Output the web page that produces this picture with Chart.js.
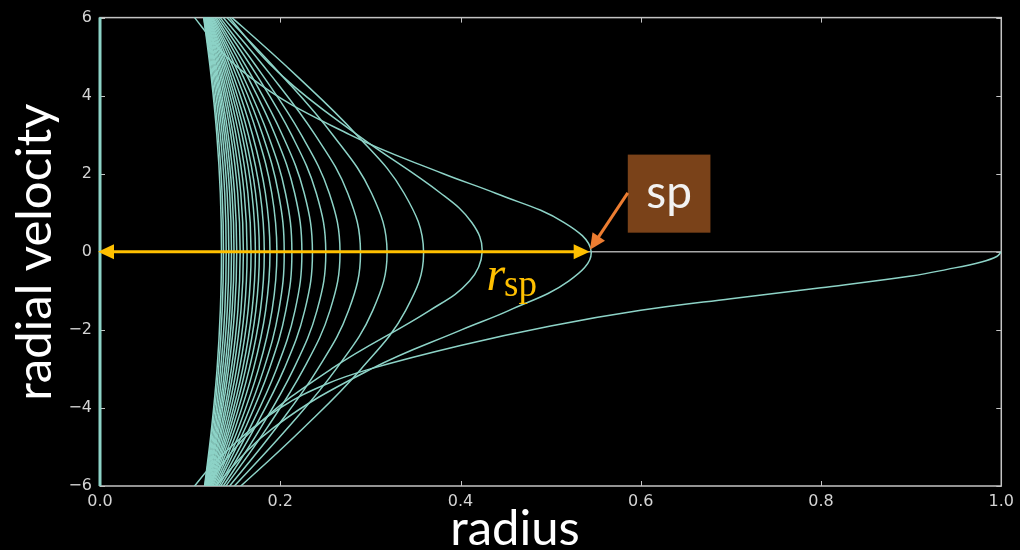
<!DOCTYPE html>
<html>
<head>
<meta charset="utf-8">
<script src="https://cdn.jsdelivr.net/npm/chart.js@4/dist/chart.umd.min.js"></script>
<style>
  html, body { margin: 0; padding: 0; background: #000; }
  #wrap { width: 1020px; height: 550px; }
</style>
</head>
<body>
<div id="wrap"><canvas id="phase" width="1020" height="550"></canvas></div>
<script>
// ---- axis ticks ----
const xTickValues = [0, 0.2, 0.4, 0.6, 0.8, 1.0];
const xTickLabels = ['0.0', '0.2', '0.4', '0.6', '0.8', '1.0'];
const yTickValues = [-6, -4, -2, 0, 2, 4, 6];
const yTickLabels = ['\u22126', '\u22124', '\u22122', '0', '2', '4', '6'];

// ---- velocity levels at which each nested stream is sampled ----
const shellLevels = [6.8, 6, 4.5, 3, 1.5, 0, -1.5, -3, -4.5, -6, -6.8];

// radii of the nested streams (outer to inner), one value per velocity level
const shell01 = [0.1057, 0.1464, 0.2185, 0.2846, 0.3374, 0.3590, 0.3392, 0.2897, 0.2263, 0.1563, 0.1167];
const shell02 = [0.1058, 0.1407, 0.2024, 0.2581, 0.3013, 0.3185, 0.3027, 0.2621, 0.2087, 0.1490, 0.1152];
const shell03 = [0.1061, 0.1366, 0.1905, 0.2385, 0.2749, 0.2890, 0.2759, 0.2417, 0.1958, 0.1437, 0.1141];
const shell04 = [0.1063, 0.1334, 0.1811, 0.2232, 0.2544, 0.2663, 0.2552, 0.2259, 0.1857, 0.1396, 0.1133];
const shell05 = [0.1065, 0.1312, 0.1746, 0.2124, 0.2400, 0.2505, 0.2408, 0.2148, 0.1786, 0.1368, 0.1129];
const shell06 = [0.1066, 0.1291, 0.1683, 0.2022, 0.2266, 0.2357, 0.2272, 0.2043, 0.1719, 0.1341, 0.1124];
const shell07 = [0.1069, 0.1275, 0.1634, 0.1942, 0.2160, 0.2240, 0.2164, 0.1959, 0.1666, 0.1320, 0.1121];
const shell08 = [0.1070, 0.1259, 0.1587, 0.1864, 0.2058, 0.2129, 0.2062, 0.1879, 0.1615, 0.1300, 0.1118];
const shell09 = [0.1072, 0.1247, 0.1550, 0.1804, 0.1980, 0.2044, 0.1984, 0.1818, 0.1576, 0.1285, 0.1116];
const shell10 = [0.1074, 0.1236, 0.1515, 0.1746, 0.1906, 0.1963, 0.1909, 0.1759, 0.1538, 0.1270, 0.1114];
const shell11 = [0.1076, 0.1225, 0.1481, 0.1692, 0.1835, 0.1886, 0.1838, 0.1703, 0.1502, 0.1256, 0.1112];
const shell12 = [0.1078, 0.1216, 0.1453, 0.1646, 0.1777, 0.1823, 0.1780, 0.1656, 0.1472, 0.1245, 0.1112];
const shell13 = [0.1080, 0.1209, 0.1429, 0.1607, 0.1726, 0.1768, 0.1729, 0.1616, 0.1446, 0.1235, 0.1111];
const shell14 = [0.1081, 0.1202, 0.1408, 0.1575, 0.1685, 0.1724, 0.1687, 0.1583, 0.1424, 0.1227, 0.1110];
const shell15 = [0.1083, 0.1196, 0.1387, 0.1540, 0.1641, 0.1676, 0.1643, 0.1547, 0.1402, 0.1219, 0.1110];
const shell16 = [0.1084, 0.1189, 0.1366, 0.1507, 0.1600, 0.1632, 0.1602, 0.1515, 0.1380, 0.1211, 0.1110];
const shell17 = [0.1086, 0.1184, 0.1348, 0.1477, 0.1562, 0.1591, 0.1564, 0.1483, 0.1360, 0.1203, 0.1109];
const shell18 = [0.1088, 0.1179, 0.1331, 0.1451, 0.1528, 0.1555, 0.1530, 0.1457, 0.1343, 0.1197, 0.1110];
const shell19 = [0.1089, 0.1173, 0.1313, 0.1422, 0.1493, 0.1517, 0.1494, 0.1427, 0.1324, 0.1190, 0.1109];
const shell20 = [0.1091, 0.1169, 0.1299, 0.1400, 0.1465, 0.1487, 0.1466, 0.1405, 0.1309, 0.1185, 0.1110];
const shell21 = [0.1092, 0.1165, 0.1286, 0.1379, 0.1439, 0.1459, 0.1440, 0.1384, 0.1295, 0.1180, 0.1110];
const shell22 = [0.1094, 0.1161, 0.1272, 0.1357, 0.1411, 0.1429, 0.1412, 0.1360, 0.1280, 0.1174, 0.1110];
const shell23 = [0.1096, 0.1157, 0.1258, 0.1335, 0.1384, 0.1400, 0.1385, 0.1338, 0.1265, 0.1169, 0.1110];
const shell24 = [0.1097, 0.1153, 0.1244, 0.1312, 0.1355, 0.1370, 0.1356, 0.1316, 0.1250, 0.1164, 0.1111];
const shell25 = [0.1099, 0.1150, 0.1233, 0.1296, 0.1335, 0.1348, 0.1335, 0.1299, 0.1239, 0.1160, 0.1112];
const innerShells = [shell01, shell02, shell03, shell04, shell05, shell06, shell07, shell08, shell09,
  shell10, shell11, shell12, shell13, shell14, shell15, shell16, shell17, shell18, shell19, shell20,
  shell21, shell22, shell23, shell24, shell25];

// second apocentre stream
const apo2V = [6.8, 6, 4.5, 3, 1.5, 0.75, 0, -0.75, -1.5, -3, -4.5, -6, -6.8];
const apo2R = [0.1211, 0.1439, 0.2024, 0.2852, 0.3780, 0.4125, 0.4240, 0.4100, 0.3660, 0.2567, 0.1719, 0.1176, 0.0975];

// splashback stream (first apocentre)
const spV = [6.8, 6, 4.5, 3, 2, 1.5, 0.75, 0, -0.75, -1.5, -2, -3, -4.5, -6, -6.8];
const spR = [0.0880, 0.1050, 0.1650, 0.2770, 0.3810, 0.4390, 0.5150, 0.5450, 0.5200, 0.4540, 0.4010, 0.3010, 0.1930, 0.1285, 0.1055];

// first infall from turnaround
const infallR = [1.0, 0.995, 0.978, 0.94, 0.9, 0.8, 0.7, 0.6, 0.5, 0.4, 0.3, 0.25, 0.2, 0.15, 0.105, 0.088];
const infallV = [0, -0.12, -0.26, -0.45, -0.62, -0.92, -1.2, -1.5, -1.9, -2.4, -3.0, -3.4, -4.0, -4.9, -6.0, -6.8];

// centre line and v = 0 line
const centreR = [0, 0];
const centreV = [-6, 6];
const zeroR = [0, 1];
const zeroV = [0, 0];

// splashback radius marker
const rspArrow = [0, 0.5433];

const TEAL = '#8dd3c7';

function pts(rs, vs) { return rs.map((r, i) => ({ x: r, y: vs[i] })); }

function stream(rs, vs) {
  return { data: pts(rs, vs), borderColor: TEAL, borderWidth: 1.5, tension: 0.4, clip: 0, pointRadius: 0 };
}

const datasets = [];
innerShells.forEach(s => datasets.push(stream(s, shellLevels)));
datasets.push(stream(apo2R, apo2V));
datasets.push(stream(spR, spV));
datasets.push(stream(infallR, infallV));
datasets.push({ data: pts(zeroR, zeroV), borderColor: '#a8a8a8', borderWidth: 1.5, tension: 0, clip: 0, pointRadius: 0, order: 5 });
datasets.push({ data: pts(centreR, centreV), borderColor: TEAL, borderWidth: 3, tension: 0, clip: false, pointRadius: 0, order: -1 });

function arrowHead(ctx, tx, ty, ux, uy, len, half) {
  const bx = tx - ux * len, by = ty - uy * len;
  ctx.beginPath();
  ctx.moveTo(tx, ty);
  ctx.lineTo(bx - uy * half, by + ux * half);
  ctx.lineTo(bx + uy * half, by - ux * half);
  ctx.closePath();
  ctx.fill();
}

const decorations = {
  id: 'decorations',
  beforeDatasetsDraw(chart) {
    const { ctx, chartArea: a, scales: { x, y } } = chart;
    ctx.save();
    ctx.strokeStyle = '#c4c4c4';
    ctx.lineWidth = 1.5;
    ctx.strokeRect(a.left, a.top, a.right - a.left, a.bottom - a.top);
    ctx.beginPath();
    xTickValues.forEach(v => {
      const px = Math.round(x.getPixelForValue(v)) + 0.5;
      ctx.moveTo(px, a.bottom); ctx.lineTo(px, a.bottom - 5);
      ctx.moveTo(px, a.top); ctx.lineTo(px, a.top + 5);
    });
    yTickValues.forEach(v => {
      const py = Math.round(y.getPixelForValue(v)) + 0.5;
      ctx.moveTo(a.left, py); ctx.lineTo(a.left + 5, py);
      ctx.moveTo(a.right, py); ctx.lineTo(a.right - 5, py);
    });
    ctx.lineWidth = 1;
    ctx.stroke();
    ctx.restore();
  },
  afterDatasetsDraw(chart) {
    const { ctx, scales: { x, y } } = chart;
    ctx.save();
    // r_sp arrow
    const y0 = y.getPixelForValue(0);
    const xl = x.getPixelForValue(rspArrow[0]);
    const xr = x.getPixelForValue(rspArrow[1]);
    ctx.strokeStyle = '#FFC000';
    ctx.fillStyle = '#FFC000';
    ctx.lineWidth = 3;
    ctx.beginPath();
    ctx.moveTo(xl + 8, y0); ctx.lineTo(xr - 8, y0);
    ctx.stroke();
    arrowHead(ctx, xl - 2, y0, -1, 0, 16, 7.5);
    arrowHead(ctx, xr, y0, 1, 0, 16, 7.5);

    // r_sp label
    const lx = x.getPixelForValue(0.4287), ly = y.getPixelForValue(-0.98);
    ctx.font = 'italic 48px "Liberation Serif"';
    ctx.textBaseline = 'alphabetic';
    ctx.textAlign = 'left';
    ctx.fillText('r', lx, ly);
    const rw = ctx.measureText('r').width;
    ctx.font = '37px "Liberation Serif"';
    ctx.fillText('sp', lx + rw - 1, ly + 6);

    // splashback callout box
    const bx0 = x.getPixelForValue(0.5856), bx1 = x.getPixelForValue(0.6773);
    const by0 = y.getPixelForValue(2.49), by1 = y.getPixelForValue(0.49);
    ctx.fillStyle = '#7a4219';
    ctx.fillRect(bx0, by0, bx1 - bx0, by1 - by0);
    ctx.fillStyle = '#f2f2f2';
    ctx.font = '46px Lato';
    ctx.textAlign = 'center';
    ctx.fillText('sp', (bx0 + bx1) / 2, by0 + 53);

    // callout pointer
    const sx = bx0, sy = y.getPixelForValue(1.51);
    const tx = x.getPixelForValue(0.5436), ty = y.getPixelForValue(0.05);
    const dx = tx - sx, dy = ty - sy, len = Math.hypot(dx, dy);
    const ux = dx / len, uy = dy / len;
    ctx.strokeStyle = '#ED7D31';
    ctx.fillStyle = '#ED7D31';
    ctx.lineWidth = 3;
    ctx.beginPath();
    ctx.moveTo(sx, sy); ctx.lineTo(tx - ux * 12, ty - uy * 12);
    ctx.stroke();
    arrowHead(ctx, tx, ty, ux, uy, 16, 7.5);
    ctx.restore();
  },
  afterDraw(chart) {
    const { ctx } = chart;
    ctx.save();
    ctx.fillStyle = '#ffffff';
    ctx.font = '49px Lato';
    ctx.textAlign = 'center';
    ctx.textBaseline = 'alphabetic';
    ctx.fillText('radius', 515, 545);
    ctx.translate(51, 252);
    ctx.rotate(-Math.PI / 2);
    ctx.fillText('radial velocity', 0, 0);
    ctx.restore();
  }
};

new Chart(document.getElementById('phase'), {
  type: 'line',
  data: { datasets },
  options: {
    responsive: false,
    animation: false,
    devicePixelRatio: 1,
    layout: { padding: { left: 0, right: 15, top: 17, bottom: 0 } },
    plugins: { legend: { display: false }, tooltip: { enabled: false } },
    elements: { point: { radius: 0 }, line: { capBezierPoints: false } },
    scales: {
      x: {
        type: 'linear', min: 0, max: 1,
        afterBuildTicks: s => { s.ticks = xTickValues.map(v => ({ value: v })); },
        afterFit: s => { s.height = 64; },
        grid: { display: false, drawTicks: false },
        border: { display: false },
        ticks: {
          color: '#d4d4d4', padding: 6, maxRotation: 0, autoSkip: false,
          font: { family: 'DejaVu Sans', size: 16 },
          callback: (v, i) => xTickLabels[i]
        }
      },
      y: {
        type: 'linear', min: -6, max: 6,
        afterBuildTicks: s => { s.ticks = yTickValues.map(v => ({ value: v })); },
        afterFit: s => { s.width = 100; },
        grid: { display: false, drawTicks: false },
        border: { display: false },
        ticks: {
          color: '#d4d4d4', padding: 8, autoSkip: false,
          font: { family: 'DejaVu Sans', size: 16 },
          callback: (v, i) => yTickLabels[i]
        }
      }
    }
  },
  plugins: [decorations]
});
</script>
</body>
</html>
